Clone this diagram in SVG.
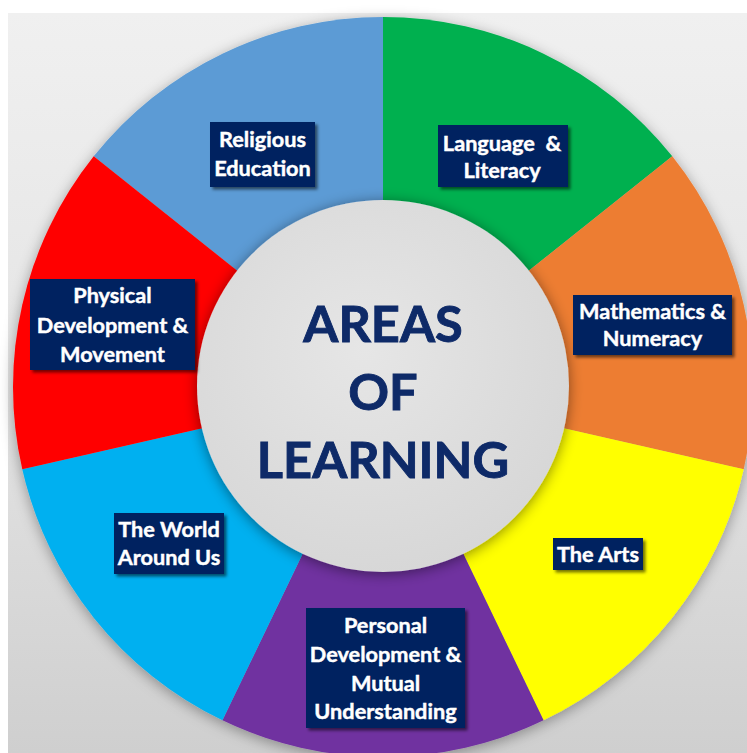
<svg xmlns="http://www.w3.org/2000/svg" width="747" height="753" viewBox="0 0 747 753">
<defs>
<linearGradient id="bg" x1="0" y1="0" x2="0" y2="1">
<stop offset="0" stop-color="#f0f0f0"/>
<stop offset="0.5" stop-color="#e4e4e4"/>
<stop offset="1" stop-color="#cfcfcf"/>
</linearGradient>
<radialGradient id="hub" cx="0.45" cy="0.4" r="0.65">
<stop offset="0" stop-color="#e6e6e6"/>
<stop offset="1" stop-color="#d6d6d6"/>
</radialGradient>
<filter id="ringShadow" x="-10%" y="-10%" width="120%" height="120%">
<feDropShadow dx="0" dy="3" stdDeviation="7" flood-color="#000" flood-opacity="0.35"/>
</filter>
<filter id="hubShadow" x="-15%" y="-15%" width="130%" height="130%">
<feDropShadow dx="0" dy="2" stdDeviation="7" flood-color="#000" flood-opacity="0.45"/>
</filter>
<filter id="boxShadow" x="-10%" y="-10%" width="130%" height="130%">
<feDropShadow dx="2.5" dy="2.5" stdDeviation="1.5" flood-color="#000" flood-opacity="0.55"/>
</filter>
</defs>
<style>
.box{fill:#002060;filter:url(#boxShadow)}
.lbl{font-family:Lato,"Liberation Sans",sans-serif;font-weight:bold;font-size:21.7px;fill:#ffffff;stroke:#ffffff;stroke-width:0.45px;text-anchor:middle}
.title{font-family:Lato,"Liberation Sans",sans-serif;font-weight:bold;font-size:50.5px;fill:#0e2a68;stroke:#0e2a68;stroke-width:0.9px;text-anchor:middle}
</style>
<rect x="0" y="0" width="747" height="753" fill="#ffffff"/>
<rect x="8" y="13" width="739" height="740" fill="url(#bg)"/>
<g id="ring" filter="url(#ringShadow)">
<path d="M383,387 L93.72,156.31 A370,370 0 0 1 383,17 Z" fill="#5b9bd5"/>
<path d="M383,387 L383,17 A370,370 0 0 1 672.28,156.31 Z" fill="#00b050"/>
<path d="M383,387 L672.28,156.31 A370,370 0 0 1 743.72,469.33 Z" fill="#ed7d31"/>
<path d="M383,387 L743.72,469.33 A370,370 0 0 1 543.54,720.36 Z" fill="#ffff00"/>
<path d="M383,387 L543.54,720.36 A370,370 0 0 1 222.46,720.36 Z" fill="#7030a0"/>
<path d="M383,387 L222.46,720.36 A370,370 0 0 1 22.28,469.33 Z" fill="#00b0f0"/>
<path d="M383,387 L22.28,469.33 A370,370 0 0 1 93.72,156.31 Z" fill="#ff0000"/>
</g>
<g id="hub">
<circle cx="383" cy="386" r="186" fill="url(#hub)" filter="url(#hubShadow)"/>
<text class="title" x="383" y="342">AREAS</text>
<text class="title" x="383" y="410">OF</text>
<text class="title" x="383" y="478">LEARNING</text>
</g>
<g id="religious-education">
<rect class="box" x="210" y="122" width="105" height="65"/>
<text class="lbl" x="262.5" y="147">Religious</text>
<text class="lbl" x="262.5" y="176">Education</text>
</g>
<g id="language-literacy">
<rect class="box" x="438" y="125" width="130" height="62"/>
<text class="lbl" x="502" y="151" xml:space="preserve">Language  &amp;</text>
<text class="lbl" x="502" y="178">Literacy</text>
</g>
<g id="mathematics-numeracy">
<rect class="box" x="573" y="295" width="159" height="60"/>
<text class="lbl" x="652.5" y="319">Mathematics &amp;</text>
<text class="lbl" x="652.5" y="346">Numeracy</text>
</g>
<g id="the-arts">
<rect class="box" x="553" y="538" width="90" height="32"/>
<text class="lbl" x="598" y="562">The Arts</text>
</g>
<g id="personal-development">
<rect class="box" x="306" y="608" width="159" height="120"/>
<text class="lbl" x="385.5" y="633">Personal</text>
<text class="lbl" x="385.5" y="662">Development &amp;</text>
<text class="lbl" x="385.5" y="691">Mutual</text>
<text class="lbl" x="385.5" y="719">Understanding</text>
</g>
<g id="the-world-around-us">
<rect class="box" x="114" y="513" width="110" height="61"/>
<text class="lbl" x="169" y="537">The World</text>
<text class="lbl" x="169" y="565">Around Us</text>
</g>
<g id="physical-development">
<rect class="box" x="30" y="279" width="165" height="91"/>
<text class="lbl" x="112.5" y="303">Physical</text>
<text class="lbl" x="112.5" y="333">Development &amp;</text>
<text class="lbl" x="112.5" y="362">Movement</text>
</g>
<g id="connectors"/>
</svg>
